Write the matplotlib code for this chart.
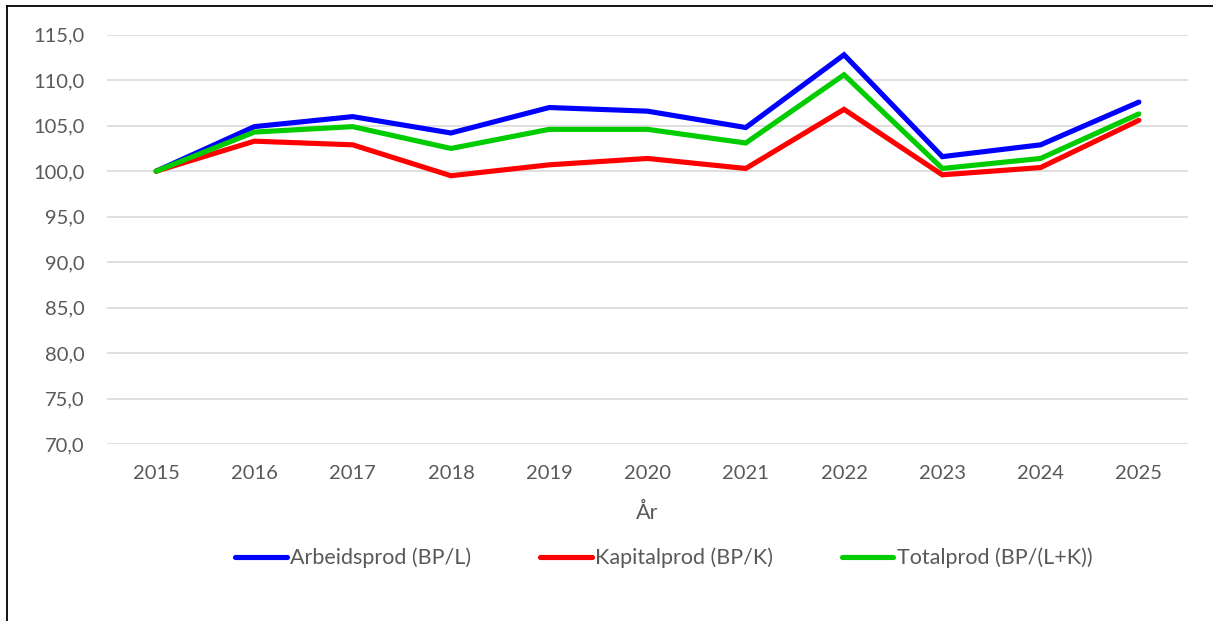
import matplotlib.pyplot as plt
from matplotlib.lines import Line2D

years = ["2015", "2016", "2017", "2018", "2019", "2020", "2021", "2022", "2023", "2024", "2025"]
arbeid = [100.0, 104.9, 106.0, 104.2, 107.0, 106.6, 104.8, 112.8, 101.6, 102.9, 107.6]
kapital = [100.0, 103.3, 102.9, 99.5, 100.7, 101.4, 100.3, 106.8, 99.6, 100.4, 105.6]
total = [100.0, 104.3, 104.9, 102.5, 104.6, 104.6, 103.1, 110.6, 100.3, 101.4, 106.3]
yticks = [70, 75, 80, 85, 90, 95, 100, 105, 110, 115]

plt.rcParams['font.family'] = ['Lato', 'DejaVu Sans']
grey = '#595959'

fig = plt.figure(figsize=(12.13, 6.21), dpi=100)
ax = fig.add_axes([0.0882, 0.285, 0.8912, 0.659])

x = range(len(years))
ax.plot(x, arbeid, color='#0000FF', lw=3.7, solid_capstyle='round', solid_joinstyle='miter', label='Arbeidsprod (BP/L)')
ax.plot(x, kapital, color='#FF0000', lw=3.7, solid_capstyle='round', solid_joinstyle='miter', label='Kapitalprod (BP/K)')
ax.plot(x, total, color='#00CC00', lw=3.7, solid_capstyle='round', solid_joinstyle='miter', label='Totalprod (BP/(L+K))')

ax.set_xlim(-0.5, len(years) - 0.5)
ax.set_ylim(70, 115)
ax.set_yticks(yticks)
ax.set_yticklabels([f"{v:.1f}".replace('.', ',') for v in yticks])
ax.set_xticks(list(x))
ax.set_xticklabels(years)
ax.tick_params(length=0, labelsize=14.5, colors=grey)
ax.tick_params(axis='y', pad=16)
ax.tick_params(axis='x', pad=15)
ax.grid(axis='y', color='#D9D9D9', lw=1.2)
ax.set_axisbelow(True)
for s in ax.spines.values():
    s.set_visible(False)

ax.set_xlabel('År', fontsize=15.5, color=grey, labelpad=15)

leg = ax.legend(loc='center', bbox_to_anchor=(0.515, -0.279), ncol=3, frameon=False,
                fontsize=15.5, handlelength=2.4, handletextpad=0.15, columnspacing=3.2)
for t in leg.get_texts():
    t.set_color(grey)

# frame around the chart: only left and top edges visible
fig.add_artist(Line2D([0.0058, 0.0058], [0, 0.990], color='black', lw=1.3, transform=fig.transFigure))
fig.add_artist(Line2D([0.0058, 1.0], [0.990, 0.990], color='black', lw=1.3, transform=fig.transFigure))

plt.savefig('out.png', dpi=100)
